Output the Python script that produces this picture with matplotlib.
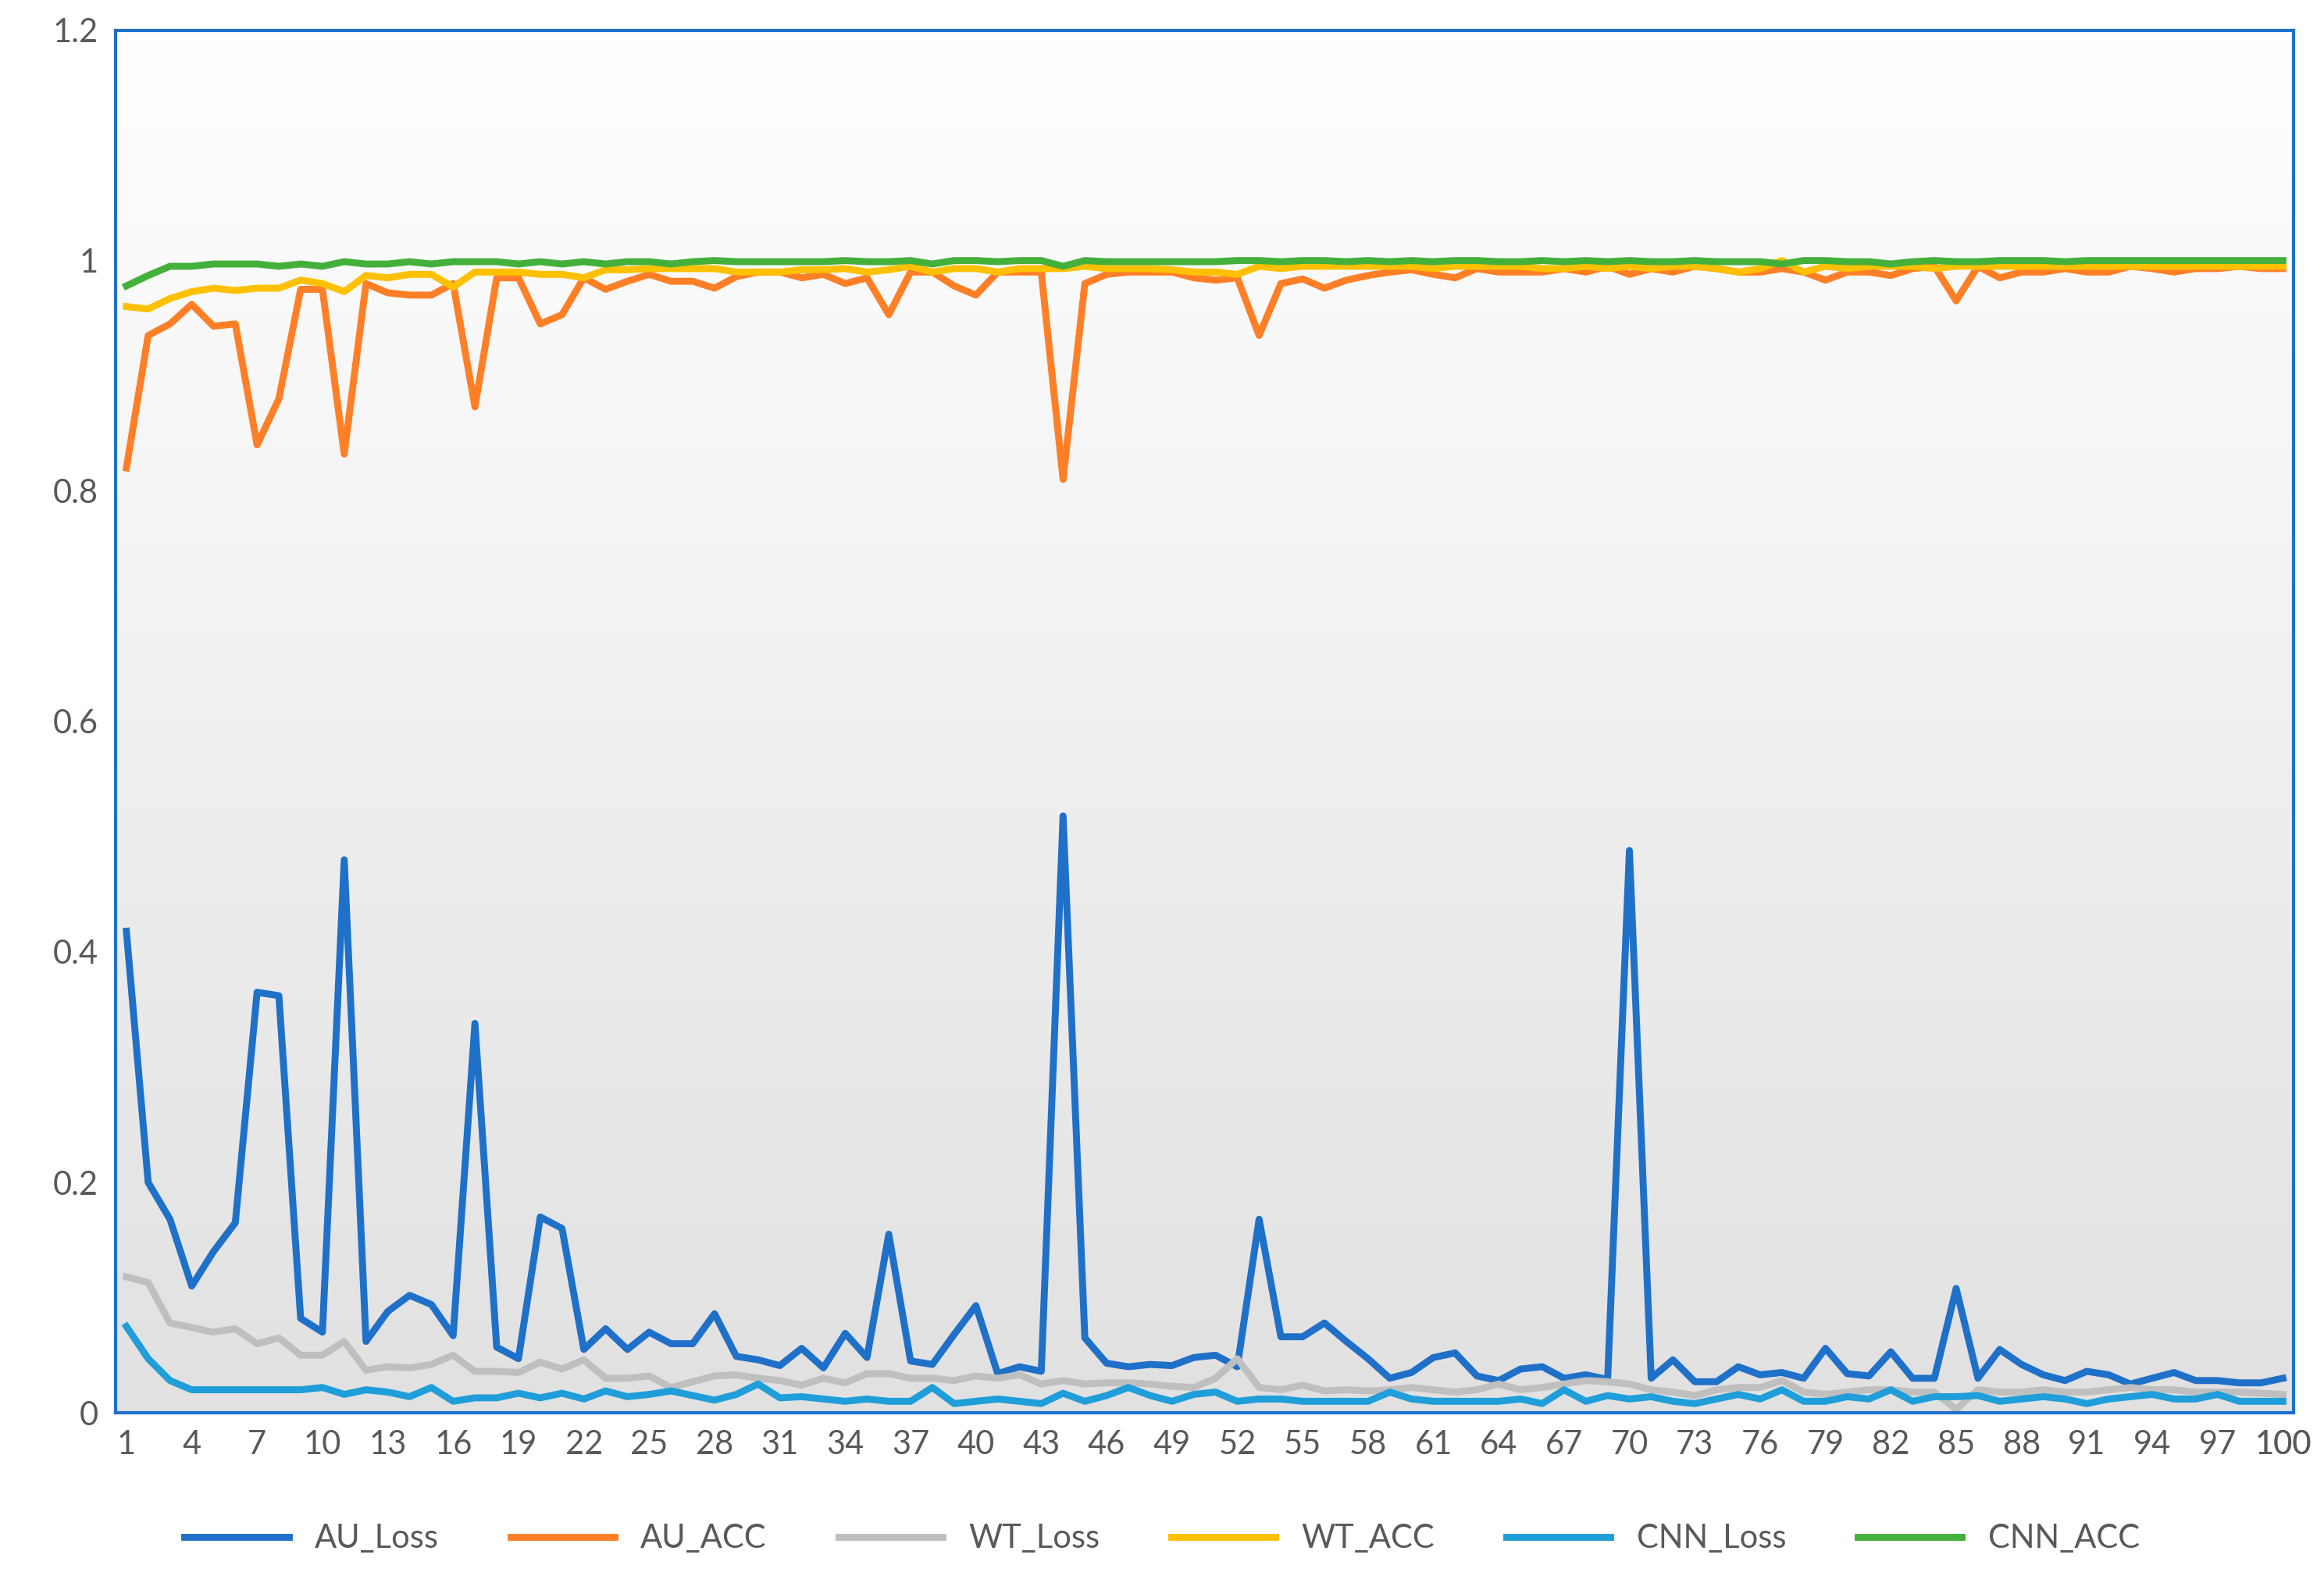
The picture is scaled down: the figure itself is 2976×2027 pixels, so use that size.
import numpy as np
import matplotlib
matplotlib.use("Agg")
import matplotlib.pyplot as plt

plt.rcParams["font.family"] = ["Lato", "DejaVu Sans"]

epochs = list(range(1, 101))

au_loss = [0.418, 0.20, 0.168, 0.11, 0.14, 0.165, 0.365, 0.362, 0.082, 0.07,
           0.48, 0.062, 0.088, 0.102, 0.094, 0.067, 0.338, 0.057, 0.047, 0.17,
           0.16, 0.055, 0.073, 0.055, 0.07, 0.06, 0.06, 0.086, 0.049, 0.046,
           0.041, 0.056, 0.039, 0.069, 0.048, 0.155, 0.045, 0.042, 0.068, 0.093,
           0.034, 0.04, 0.036, 0.518, 0.065, 0.043, 0.04, 0.042, 0.041, 0.048,
           0.05, 0.04, 0.168, 0.066, 0.066, 0.078, 0.062, 0.047, 0.03, 0.035,
           0.048, 0.052, 0.032, 0.028, 0.038, 0.04, 0.03, 0.033, 0.029, 0.488,
           0.03, 0.046, 0.027, 0.027, 0.04, 0.033, 0.035, 0.03, 0.056, 0.034,
           0.032, 0.053, 0.03, 0.03, 0.108, 0.03, 0.055, 0.042, 0.033, 0.028,
           0.036, 0.033, 0.025, 0.03, 0.035, 0.028, 0.028, 0.026, 0.026, 0.03]

au_acc = [0.82, 0.935, 0.945, 0.962, 0.943, 0.945, 0.84, 0.88, 0.975, 0.975,
          0.832, 0.98, 0.972, 0.97, 0.97, 0.98, 0.873, 0.985, 0.985, 0.945,
          0.953, 0.985, 0.975, 0.982, 0.988, 0.982, 0.982, 0.976, 0.986, 0.99,
          0.99, 0.985, 0.988, 0.98, 0.985, 0.953, 0.99, 0.99, 0.978, 0.97,
          0.99, 0.99, 0.99, 0.81, 0.98, 0.988, 0.99, 0.99, 0.99, 0.985,
          0.983, 0.985, 0.935, 0.98, 0.984, 0.976, 0.983, 0.987, 0.99, 0.992,
          0.988, 0.985, 0.993, 0.99, 0.99, 0.99, 0.993, 0.99, 0.995, 0.988,
          0.993, 0.99, 0.995, 0.993, 0.99, 0.99, 0.993, 0.99, 0.983, 0.99,
          0.99, 0.987, 0.993, 0.995, 0.965, 0.995, 0.985, 0.99, 0.99, 0.993,
          0.99, 0.99, 0.995, 0.993, 0.99, 0.993, 0.993, 0.995, 0.993, 0.993]

wt_loss = [0.118, 0.113, 0.078, 0.074, 0.07, 0.073, 0.06, 0.065, 0.05, 0.05,
           0.062, 0.037, 0.04, 0.039, 0.042, 0.05, 0.036, 0.036, 0.035, 0.044,
           0.038, 0.046, 0.03, 0.03, 0.032, 0.022, 0.027, 0.032, 0.033, 0.03,
           0.028, 0.024, 0.03, 0.026, 0.034, 0.034, 0.03, 0.03, 0.028, 0.032,
           0.03, 0.033, 0.025, 0.028, 0.025, 0.026, 0.026, 0.025, 0.023, 0.022,
           0.03, 0.047, 0.022, 0.02, 0.024, 0.019, 0.02, 0.019, 0.02, 0.022,
           0.02, 0.018, 0.02, 0.025, 0.02, 0.022, 0.025, 0.028, 0.027, 0.025,
           0.02, 0.018, 0.015, 0.02, 0.022, 0.022, 0.028, 0.018, 0.016, 0.018,
           0.02, 0.02, 0.018, 0.018, 0.003, 0.02, 0.018, 0.018, 0.02, 0.018,
           0.018, 0.02, 0.022, 0.02, 0.02, 0.018, 0.018, 0.018, 0.017, 0.016]

wt_acc = [0.96, 0.958, 0.967, 0.973, 0.976, 0.974, 0.976, 0.976, 0.983, 0.98,
          0.973, 0.987, 0.985, 0.988, 0.988, 0.977, 0.99, 0.99, 0.99, 0.988,
          0.988, 0.985, 0.992, 0.992, 0.993, 0.993, 0.993, 0.993, 0.99, 0.99,
          0.99, 0.992, 0.992, 0.993, 0.99, 0.992, 0.995, 0.99, 0.993, 0.993,
          0.99, 0.993, 0.993, 0.993, 0.995, 0.993, 0.993, 0.993, 0.992, 0.99,
          0.99, 0.988, 0.995, 0.993, 0.995, 0.995, 0.995, 0.995, 0.995, 0.995,
          0.993, 0.995, 0.995, 0.995, 0.995, 0.993, 0.993, 0.995, 0.993, 0.995,
          0.993, 0.995, 0.995, 0.993, 0.99, 0.993, 1.0, 0.99, 0.995, 0.993,
          0.995, 0.995, 0.995, 0.993, 0.995, 0.995, 0.995, 0.995, 0.995, 0.995,
          0.995, 0.995, 0.995, 0.995, 0.995, 0.995, 0.995, 0.995, 0.995, 0.995]

cnn_loss = [0.075, 0.047, 0.028, 0.02, 0.02, 0.02, 0.02, 0.02, 0.02, 0.022,
            0.016, 0.02, 0.018, 0.014, 0.022, 0.01, 0.013, 0.013, 0.017, 0.013,
            0.017, 0.012, 0.019, 0.014, 0.016, 0.019, 0.015, 0.011, 0.016, 0.025,
            0.013, 0.014, 0.012, 0.01, 0.012, 0.01, 0.01, 0.022, 0.008, 0.01,
            0.012, 0.01, 0.008, 0.017, 0.01, 0.015, 0.022, 0.015, 0.01, 0.016,
            0.018, 0.01, 0.012, 0.012, 0.01, 0.01, 0.01, 0.01, 0.018, 0.012,
            0.01, 0.01, 0.01, 0.01, 0.012, 0.008, 0.02, 0.01, 0.015, 0.012,
            0.014, 0.01, 0.008, 0.012, 0.016, 0.012, 0.02, 0.01, 0.01, 0.014,
            0.012, 0.02, 0.01, 0.014, 0.014, 0.015, 0.01, 0.012, 0.014, 0.012,
            0.008, 0.012, 0.014, 0.016, 0.012, 0.012, 0.016, 0.01, 0.01, 0.01]

cnn_acc = [0.978, 0.987, 0.995, 0.995, 0.997, 0.997, 0.997, 0.995, 0.997, 0.995,
           0.999, 0.997, 0.997, 0.999, 0.997, 0.999, 0.999, 0.999, 0.997, 0.999,
           0.997, 0.999, 0.997, 0.999, 0.999, 0.997, 0.999, 1.0, 0.999, 0.999,
           0.999, 0.999, 0.999, 1.0, 0.999, 0.999, 1.0, 0.997, 1.0, 1.0,
           0.999, 1.0, 1.0, 0.995, 1.0, 0.999, 0.999, 0.999, 0.999, 0.999,
           0.999, 1.0, 1.0, 0.999, 1.0, 1.0, 0.999, 1.0, 0.999, 1.0,
           0.999, 1.0, 1.0, 0.999, 0.999, 1.0, 0.999, 1.0, 0.999, 1.0,
           0.999, 0.999, 1.0, 0.999, 0.999, 0.999, 0.997, 1.0, 1.0, 0.999,
           0.999, 0.997, 0.999, 1.0, 0.999, 0.999, 1.0, 1.0, 1.0, 0.999,
           1.0, 1.0, 1.0, 1.0, 1.0, 1.0, 1.0, 1.0, 1.0, 1.0]

series = [("AU_Loss", au_loss, "#1f70c8"), ("AU_ACC", au_acc, "#ff7f27"),
          ("WT_Loss", wt_loss, "#bfbfbf"), ("WT_ACC", wt_acc, "#ffc000"),
          ("CNN_Loss", cnn_loss, "#1f9ed9"), ("CNN_ACC", cnn_acc, "#44b03c")]

fig = plt.figure(figsize=(14.88, 10.135), dpi=200)
ax = fig.add_axes([0.0497, 0.1075, 0.9373, 0.8735])

# white-to-grey vertical gradient like the Excel plot area
grad = np.linspace(0, 1, 256).reshape(-1, 1)
ax.imshow(grad, cmap=matplotlib.colors.LinearSegmentedColormap.from_list(
    "g", ["#e1e1e1", "#ffffff"]), extent=[0.5, 100.5, 0, 1.2],
    aspect="auto", origin="lower", zorder=0)

for name, vals, color in series:
    ax.plot(epochs, vals, color=color, lw=3.2, label=name,
            solid_joinstyle="round", zorder=2)

ax.set_xlim(0.5, 100.5)
ax.set_ylim(0, 1.2)
ax.set_yticks(np.arange(0, 1.21, 0.2))
ax.set_yticklabels(["0", "0.2", "0.4", "0.6", "0.8", "1", "1.2"])
ax.set_xticks(list(range(1, 101, 3)) + [100])
ax.tick_params(length=0, labelsize=15, colors="#595959", pad=8)
for sp in ax.spines.values():
    sp.set_color("#1f70c8")
    sp.set_linewidth(1.5)

fig.legend(loc="lower center", ncol=6, frameon=False, fontsize=15,
           labelcolor="#595959", bbox_to_anchor=(0.5, 0.0), handlelength=3.2,
           columnspacing=2.2)

fig.savefig("out.png", dpi=200, facecolor="white")
